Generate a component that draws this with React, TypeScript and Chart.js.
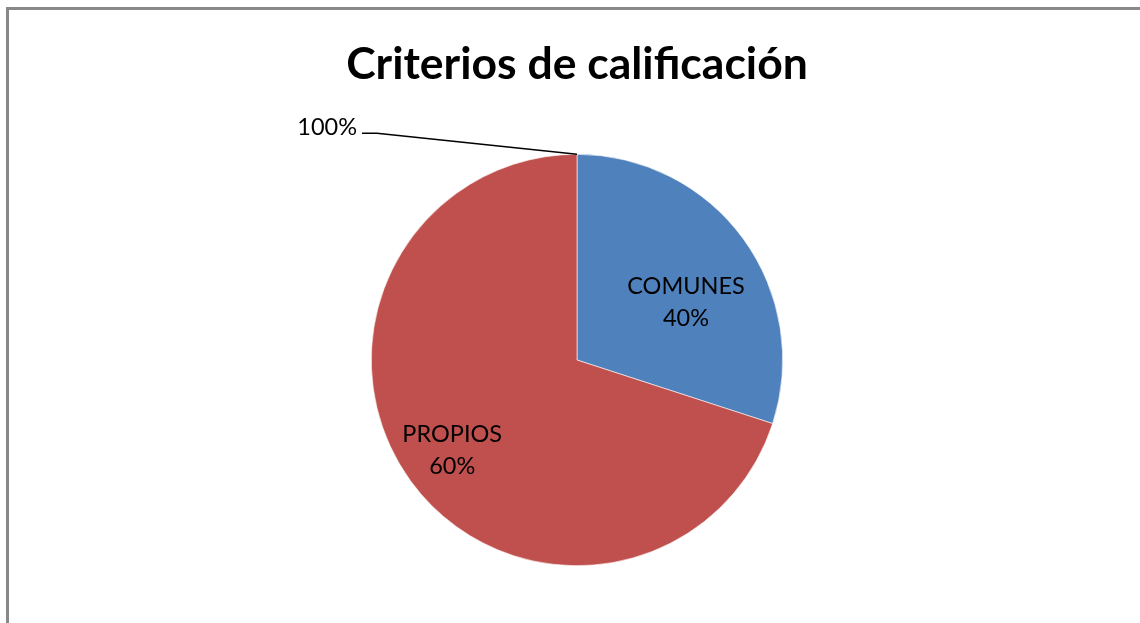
import React, { useEffect, useRef } from "react";
import { Chart, registerables } from "chart.js";

Chart.register(...registerables);

const titleText = "Criterios de calificación";
const categories = ["", "COMUNES", "PROPIOS"];
const sliceValues = [0, 30, 70];
const percentLabels = ["100%", "40%", "60%"];
const sliceColors = ["#000000", "#4F81BD", "#C0504D"];

const labelFont = "23.5px Lato";

const piePlugin = {
  id: "pieLabels",
  afterDatasetsDraw(chart: any) {
    const ctx = chart.ctx;
    const meta = chart.getDatasetMeta(0);
    ctx.save();
    ctx.fillStyle = "#000";
    ctx.font = labelFont;
    meta.data.forEach((arc: any, i: number) => {
      const p = arc.getProps(["x", "y", "startAngle", "endAngle", "outerRadius"], true);
      const mid = (p.startAngle + p.endAngle) / 2;
      if (p.endAngle - p.startAngle < 1e-6) {
        const px = p.x + Math.cos(p.startAngle) * p.outerRadius;
        const py = p.y + Math.sin(p.startAngle) * p.outerRadius;
        ctx.strokeStyle = "#000";
        ctx.lineWidth = 1.5;
        ctx.beginPath();
        ctx.moveTo(px, py);
        ctx.lineTo(px - 200, py - 21);
        ctx.lineTo(px - 215, py - 21);
        ctx.stroke();
        ctx.textAlign = "right";
        ctx.textBaseline = "middle";
        ctx.fillText(percentLabels[i], px - 220, py - 27);
        return;
      }
      const factor = i === 1 ? 0.6 : 0.75;
      const shift = i === 1 ? 0.14 : 0;
      const a = mid + shift;
      const cx = p.x + Math.cos(a) * p.outerRadius * factor;
      const cy = p.y + Math.sin(a) * p.outerRadius * factor;
      ctx.textAlign = "center";
      ctx.textBaseline = "middle";
      ctx.fillText(categories[i], cx, cy - 16);
      ctx.fillText(percentLabels[i], cx, cy + 16);
    });
    ctx.restore();
  },
};

const framePlugin = {
  id: "frameAndTitle",
  afterDraw(chart: any) {
    const ctx = chart.ctx;
    ctx.save();
    ctx.strokeStyle = "#898989";
    ctx.lineWidth = 3;
    ctx.beginPath();
    ctx.moveTo(7.5, 640);
    ctx.lineTo(7.5, 8.5);
    ctx.lineTo(1160, 8.5);
    ctx.stroke();
    ctx.fillStyle = "#000";
    ctx.font = "bold 44.5px Lato";
    ctx.textAlign = "center";
    ctx.textBaseline = "alphabetic";
    ctx.fillText(titleText, 577, 79);
    ctx.restore();
  },
};

export default function App() {
  const ref = useRef<HTMLCanvasElement>(null);
  useEffect(() => {
    document.body.style.margin = "0";
    document.documentElement.style.overflow = "hidden";
    document.body.style.overflow = "hidden";
    const chart = new Chart(ref.current as HTMLCanvasElement, {
      type: "pie",
      data: {
        labels: categories,
        datasets: [
          {
            data: sliceValues,
            backgroundColor: sliceColors,
            borderWidth: 0.6,
            borderColor: "#ffffff",
          },
        ],
      },
      options: {
        responsive: false,
        animation: false,
        layout: { padding: { top: 154, left: 371, right: 357, bottom: 57 } },
        plugins: {
          legend: { display: false },
          tooltip: { enabled: false },
          title: { display: false },
        },
      },
      plugins: [piePlugin, framePlugin],
    } as any);
    return () => chart.destroy();
  }, []);
  return (
    <div style={{ width: 1140, height: 623, overflow: "hidden", background: "#fff" }}>
      <canvas ref={ref} width={1140} height={623} style={{ display: "block", width: 1140, height: 623 }} />
    </div>
  );
}
